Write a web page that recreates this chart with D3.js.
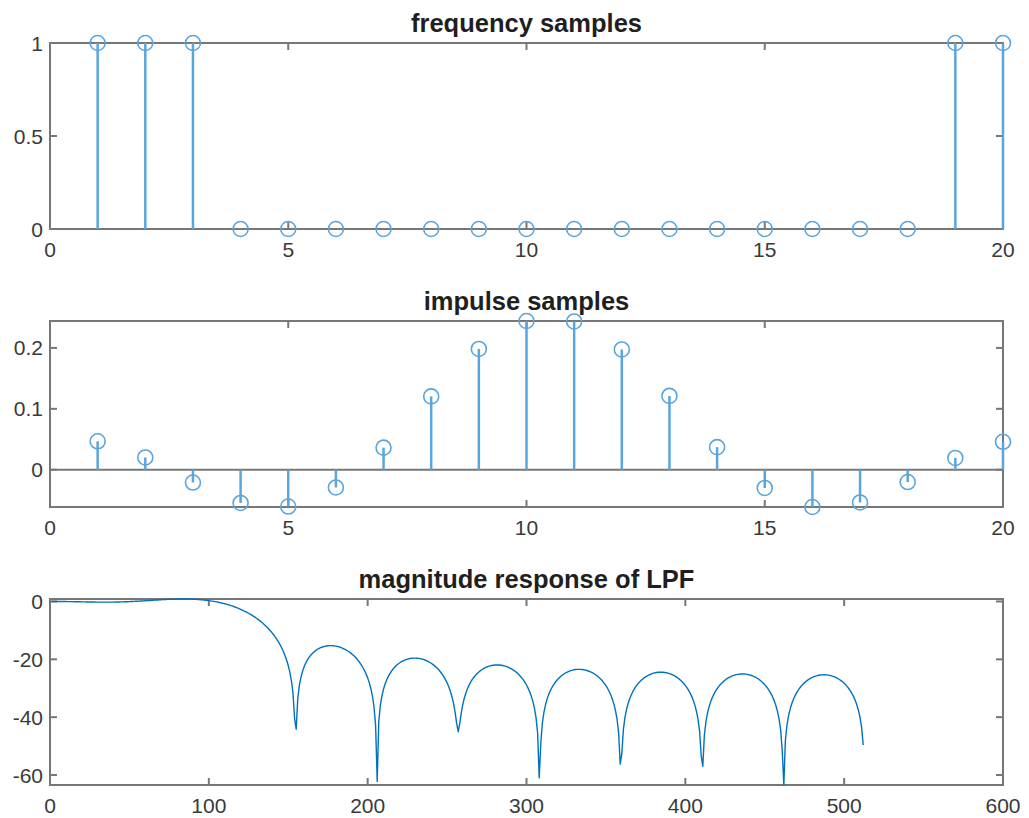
<!DOCTYPE html>
<html>
<head>
<meta charset="utf-8">
<script src="https://cdn.jsdelivr.net/npm/d3@7"></script>
<style>
  html, body { margin: 0; padding: 0; background: #ffffff; }
  svg { display: block; font-family: "Liberation Sans", Arial, Helvetica, sans-serif; }
</style>
</head>
<body>
<svg id="fig" width="1029" height="818"></svg>
<script>
// ---- data ----
const sampleIndex = [1, 2, 3, 4, 5, 6, 7, 8, 9, 10, 11, 12, 13, 14, 15, 16, 17, 18, 19, 20];
const frequencySamples = [1, 1, 1, 0, 0, 0, 0, 0, 0, 0, 0, 0, 0, 0, 0, 0, 0, 0, 1, 1];
const impulseSamples = [
  0.046669, 0.020098, -0.021028, -0.054550, -0.060417, -0.029131, 0.036248, 0.120394, 0.198300, 0.244207,
  0.243415, 0.197508, 0.121186, 0.037040, -0.029923, -0.061209, -0.053758, -0.020236, 0.019306, 0.045877
];
const freqXTicks = [0, 5, 10, 15, 20];
const freqYTicks = [0, 0.5, 1];
const impulseXTicks = [0, 5, 10, 15, 20];
const impulseYTicks = [0, 0.1, 0.2];
const responseXTicks = [0, 100, 200, 300, 400, 500, 600];
const responseYTicks = [-60, -40, -20, 0];
const responsePoints = 512;

// magnitude response (dB) of the impulse samples on 512 points over [0, pi)
const responseDb = d3.range(responsePoints).map(k => {
  const w = Math.PI * k / responsePoints;
  let re = 0, im = 0;
  impulseSamples.forEach((h, n) => {
    re += h * Math.cos(w * n);
    im -= h * Math.sin(w * n);
  });
  return 20 * Math.log10(Math.hypot(re, im));
});
const responseIndex = d3.range(1, responsePoints + 1);

// ---- layout ----
const svg = d3.select("#fig");
const plotLeft = 50, plotRight = 1003, plotHeight = 186;
const plotTops = [43, 321, 599];
const axisColor = "#777777";
const labelColor = "#3a3a3a";
const stemColor = "#5aa5dc";
const lineColor = "#0072bd";
const tickLen = 7;
const tickFont = 21;
const titleFont = 25.5;

function drawFrame(g, x, y, xTicks, yTicks, title) {
  const [x0, x1] = x.range();
  const [y0, y1] = y.range(); // y0 bottom, y1 top
  const frame = g.append("g");
  frame.append("rect")
    .attr("x", x0).attr("y", y1)
    .attr("width", x1 - x0).attr("height", y0 - y1)
    .attr("fill", "none").attr("stroke", axisColor).attr("stroke-width", 2);
  // inward ticks on all four sides
  xTicks.forEach(t => {
    const px = x(t);
    frame.append("line").attr("x1", px).attr("x2", px).attr("y1", y0).attr("y2", y0 - tickLen)
      .attr("stroke", axisColor).attr("stroke-width", 2);
    frame.append("line").attr("x1", px).attr("x2", px).attr("y1", y1).attr("y2", y1 + tickLen)
      .attr("stroke", axisColor).attr("stroke-width", 2);
  });
  yTicks.forEach(t => {
    const py = y(t);
    frame.append("line").attr("x1", x0).attr("x2", x0 + tickLen).attr("y1", py).attr("y2", py)
      .attr("stroke", axisColor).attr("stroke-width", 2);
    frame.append("line").attr("x1", x1).attr("x2", x1 - tickLen).attr("y1", py).attr("y2", py)
      .attr("stroke", axisColor).attr("stroke-width", 2);
  });
  frame.selectAll(".xl").data(xTicks).enter().append("text")
    .attr("x", d => x(d)).attr("y", y0 + 28)
    .attr("text-anchor", "middle")
    .attr("font-size", tickFont).attr("fill", labelColor)
    .text(d => String(d));
  frame.selectAll(".yl").data(yTicks).enter().append("text")
    .attr("x", x0 - 7).attr("y", d => y(d) + 7.5)
    .attr("text-anchor", "end")
    .attr("font-size", tickFont).attr("fill", labelColor)
    .text(d => String(d));
  frame.append("text")
    .attr("x", (x0 + x1) / 2).attr("y", y1 - 11)
    .attr("text-anchor", "middle")
    .attr("font-size", titleFont).attr("font-weight", "bold").attr("fill", "#1f1f1f")
    .text(title);
}

function drawStems(g, x, y, xs, ys) {
  const [x0, x1] = x.range();
  // stem baseline at zero
  g.append("line").attr("x1", x0).attr("x2", x1).attr("y1", y(0)).attr("y2", y(0))
    .attr("stroke", axisColor).attr("stroke-width", 2);
  g.selectAll(".stem").data(ys).enter().append("line")
    .attr("x1", (d, i) => x(xs[i])).attr("x2", (d, i) => x(xs[i]))
    .attr("y1", y(0)).attr("y2", d => y(d))
    .attr("stroke", stemColor).attr("stroke-width", 2.5);
  g.selectAll(".mark").data(ys).enter().append("circle")
    .attr("cx", (d, i) => x(xs[i])).attr("cy", d => y(d))
    .attr("r", 7.5)
    .attr("fill", "none").attr("stroke", stemColor).attr("stroke-width", 1.6);
}

// ---- panel 1: frequency samples ----
{
  const g = svg.append("g");
  const top = plotTops[0];
  const x = d3.scaleLinear().domain([0, 20]).range([plotLeft, plotRight]);
  const y = d3.scaleLinear().domain([0, 1]).range([top + plotHeight, top]);
  drawFrame(g, x, y, freqXTicks, freqYTicks, "frequency samples");
  drawStems(g, x, y, sampleIndex, frequencySamples);
}

// ---- panel 2: impulse samples ----
{
  const g = svg.append("g");
  const top = plotTops[1];
  const x = d3.scaleLinear().domain([0, 20]).range([plotLeft, plotRight]);
  const y = d3.scaleLinear().domain(d3.extent(impulseSamples)).range([top + plotHeight, top]);
  drawFrame(g, x, y, impulseXTicks, impulseYTicks, "impulse samples");
  drawStems(g, x, y, sampleIndex, impulseSamples);
}

// ---- panel 3: magnitude response ----
{
  const g = svg.append("g");
  const top = plotTops[2];
  const x = d3.scaleLinear().domain([0, 600]).range([plotLeft, plotRight]);
  const y = d3.scaleLinear().domain(d3.extent(responseDb)).range([top + plotHeight, top]);
  drawFrame(g, x, y, responseXTicks, responseYTicks, "magnitude response of LPF");
  const line = d3.line()
    .x((d, i) => x(responseIndex[i]))
    .y(d => y(d));
  g.append("path").datum(responseDb)
    .attr("d", line)
    .attr("fill", "none").attr("stroke", lineColor).attr("stroke-width", 1.4)
    .attr("stroke-linejoin", "round");
}
</script>
</body>
</html>
